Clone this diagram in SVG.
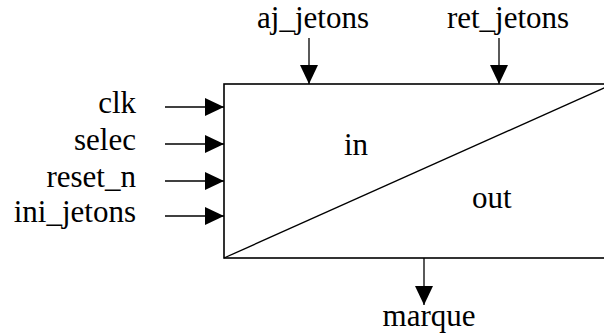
<svg xmlns="http://www.w3.org/2000/svg" width="604" height="336" viewBox="0 0 604 336">
<style>
.t{font-family:'Liberation Serif','Times New Roman',serif;font-size:31px;fill:#000}
.e{text-anchor:end}
.m{text-anchor:middle}
.c{stroke:#000;stroke-width:1.3;fill:none}
.b{stroke:#000;stroke-width:1.6;fill:none}
</style>
<defs>
<marker id="ah" markerUnits="userSpaceOnUse" markerWidth="20" markerHeight="18" refX="19" refY="9" orient="auto">
<path d="M0,0 L19,9 L0,18 z" fill="#000"/>
</marker>
</defs>
<rect width="604" height="336" fill="#fff"/>
<g id="block">
<rect class="b" x="224" y="84" width="389" height="174"/>
<line class="c" x1="224" y1="258" x2="613" y2="84"/>
<text class="t" x="344" y="155">in</text>
<text class="t" x="472" y="208">out</text>
</g>
<g id="connectors">
<line class="c" x1="165" y1="107" x2="224" y2="107" marker-end="url(#ah)"/>
<line class="c" x1="165" y1="144" x2="224" y2="144" marker-end="url(#ah)"/>
<line class="c" x1="165" y1="181" x2="224" y2="181" marker-end="url(#ah)"/>
<line class="c" x1="165" y1="216" x2="224" y2="216" marker-end="url(#ah)"/>
<line class="c" x1="309" y1="38" x2="309" y2="84" marker-end="url(#ah)"/>
<line class="c" x1="499" y1="38" x2="499" y2="84" marker-end="url(#ah)"/>
<line class="c" x1="424" y1="258" x2="424" y2="305" marker-end="url(#ah)"/>
</g>
<g id="clk"><text class="t e" x="136" y="113">clk</text></g>
<g id="selec"><text class="t e" x="136" y="150">selec</text></g>
<g id="reset_n"><text class="t e" x="136" y="187">reset_n</text></g>
<g id="ini_jetons"><text class="t e" x="136" y="222">ini_jetons</text></g>
<g id="aj_jetons"><text class="t m" x="313" y="28">aj_jetons</text></g>
<g id="ret_jetons"><text class="t m" x="508" y="28">ret_jetons</text></g>
<g id="marque"><text class="t m" x="429" y="326">marque</text></g>
</svg>
